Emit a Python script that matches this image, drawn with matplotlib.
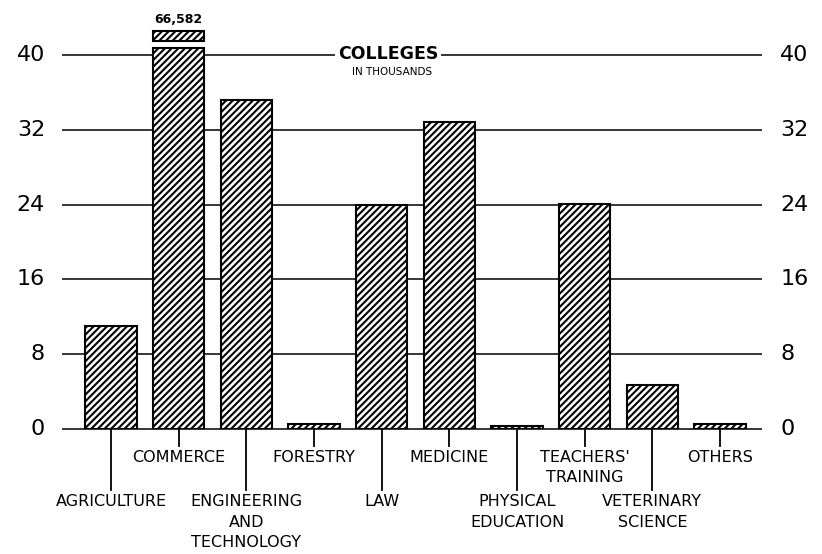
import matplotlib
matplotlib.use("Agg")

import matplotlib.pyplot as plt

# data
categories = ["AGRICULTURE", "COMMERCE", "ENGINEERING\nAND\nTECHNOLOGY", "FORESTRY",
              "LAW", "MEDICINE", "PHYSICAL\nEDUCATION", "TEACHERS'\nTRAINING",
              "VETERINARY\nSCIENCE", "OTHERS"]
values = [11.0, 66.582, 35.2, 0.5, 24.0, 32.8, 0.3, 24.1, 4.7, 0.5]  # thousands
yticks = [0, 8, 16, 24, 32, 40]

plt.rcParams["hatch.linewidth"] = 1.5
plt.rcParams["font.family"] = ["DejaVu Sans"]

W, H = 822, 554
fig = plt.figure(figsize=(W / 100, H / 100), dpi=100)
fig.patch.set_facecolor("white")

# axes spans pixel x 62..762, y (value 0 at px 429, 9.35 px per unit)
px_unit = 9.35
ytop = 44
ax = fig.add_axes([62 / W, (H - 429) / H, 700 / W, ytop * px_unit / H])
ax.set_xlim(-0.724, 9.62)
ax.set_ylim(0, ytop)
ax.axis("off")

# grid lines + tick labels on both sides
for t in yticks:
    ax.plot([-0.724, 9.62], [t, t], color="black", lw=1.1, zorder=1,
            clip_on=False, solid_capstyle="butt")
    ax.text(-0.724 - 0.25, t, str(t), ha="right", va="center", fontsize=16)
    ax.text(9.62 + 0.27, t, str(t), ha="left", va="center", fontsize=16)

# bars (the tall one is broken)
cap = 40.8
xs = list(range(len(values)))
for x, v in zip(xs, values):
    h = min(v, cap)
    ax.bar(x, h, width=0.76, bottom=0, facecolor="white", edgecolor="black",
           hatch="/////", lw=1.5, zorder=3)
    if v > cap:
        ax.bar(x, 1.0, width=0.76, bottom=cap + 0.75, facecolor="white",
               edgecolor="black", hatch="/////", lw=1.5, zorder=3, clip_on=False)
        ax.text(x, cap + 2.35, f"{v * 1000:,.0f}", ha="center", va="bottom",
                fontsize=9, fontweight="bold", clip_on=False)

# title sitting on the 40 line
ax.text(4.1, 40.1, "COLLEGES", ha="center", va="center", fontsize=12.5,
        fontweight="bold", zorder=4,
        bbox=dict(facecolor="white", edgecolor="none", pad=2))
ax.text(4.15, 38.2, "IN THOUSANDS", ha="center", va="center", fontsize=7.5, zorder=4)

# category labels with alternating leader lines
for i, (x, lab) in enumerate(zip(xs, categories)):
    if i % 2 == 0:
        ax.plot([x, x], [0, -6.5], color="black", lw=1.3, clip_on=False)
        ax.text(x, -7.0, lab, ha="center", va="top", fontsize=11.5,
                linespacing=1.45)
    else:
        ax.plot([x, x], [0, -1.8], color="black", lw=1.3, clip_on=False)
        ax.text(x, -2.2, lab, ha="center", va="top", fontsize=11.5,
                linespacing=1.45)

plt.savefig("out.png", dpi=100, facecolor="white")
plt.close()
